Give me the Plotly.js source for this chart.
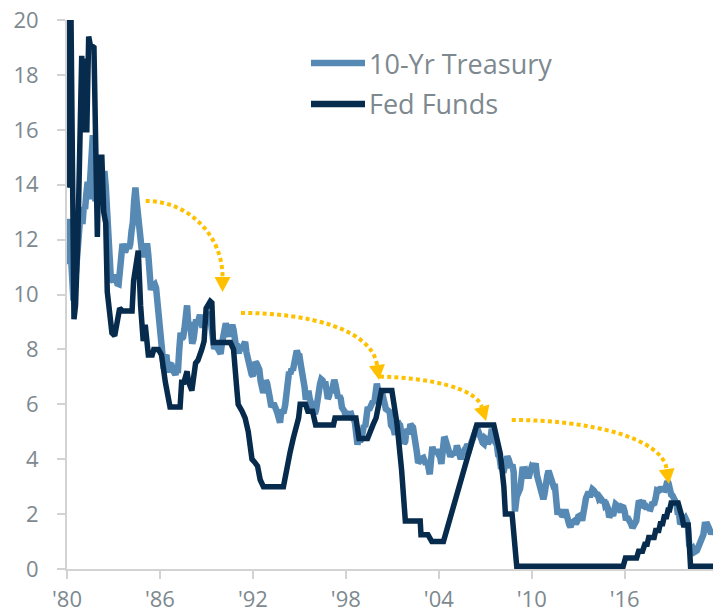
<!DOCTYPE html>
<html>
<head>
<meta charset="utf-8">
<script src="https://cdn.plot.ly/plotly-3.0.1.min.js"></script>
<style>html,body{margin:0;padding:0;background:#fff;}#chart{width:713px;height:615px;}</style>
</head>
<body>
<div id="chart"></div>
<script>
// ---- data ----
const seriesNames = ['10-Yr Treasury', 'Fed Funds'];
const tickYears = [1980, 1986, 1992, 1998, 2004, 2010, 2016];
const tickLabels = ["'80", "'86", "'92", "'98", "'04", "'10", "'16"];
const yTicks = [0, 2, 4, 6, 8, 10, 12, 14, 16, 18, 20];

// 10-year Treasury yield, monthly from Jan 1980
const tsyStartYear = 1980;
const tsy10 = [
  11.10, 12.60, 12.75, 11.47, 10.18, 9.78, 10.25, 11.10, 11.51, 11.75, 12.68, 12.84,
  12.57, 13.19, 13.12, 13.68, 14.10, 13.47, 14.28, 14.94, 15.80, 15.15, 13.39, 13.72,
  14.59, 14.43, 13.86, 13.87, 13.62, 14.50, 13.95, 13.06, 12.34, 10.91, 10.55, 10.54,
  10.46, 10.72, 10.51, 10.40, 10.38, 10.85, 11.38, 11.85, 11.65, 11.54, 11.69, 11.83,
  11.67, 11.84, 12.32, 12.63, 13.41, 13.90, 13.36, 12.72, 12.52, 12.16, 11.57, 11.50,
  11.38, 11.51, 11.86, 11.43, 10.85, 10.16, 10.31, 10.33, 10.37, 10.24, 9.78, 9.26,
  9.19, 8.70, 7.78, 7.30, 7.71, 7.80, 7.30, 7.17, 7.45, 7.43, 7.25, 7.11,
  7.08, 7.25, 7.25, 8.02, 8.61, 8.40, 8.45, 8.76, 9.42, 9.60, 8.86, 8.99,
  8.67, 8.21, 8.37, 8.72, 9.09, 8.92, 9.06, 9.26, 8.98, 8.80, 8.96, 9.11,
  9.09, 9.17, 9.36, 9.18, 8.86, 8.28, 8.02, 8.11, 8.19, 8.01, 7.87, 7.84,
  8.21, 8.47, 8.59, 8.95, 8.76, 8.48, 8.47, 8.75, 8.89, 8.72, 8.39, 8.08,
  8.09, 7.85, 8.11, 8.04, 8.07, 8.28, 8.27, 7.90, 7.65, 7.53, 7.42, 7.09,
  7.03, 7.34, 7.54, 7.48, 7.39, 7.26, 6.84, 6.59, 6.42, 6.59, 6.87, 6.77,
  6.60, 6.26, 5.98, 5.97, 6.04, 5.96, 5.81, 5.68, 5.36, 5.33, 5.72, 5.77,
  5.75, 5.97, 6.48, 6.97, 7.18, 7.10, 7.30, 7.24, 7.46, 7.74, 7.96, 7.81,
  7.78, 7.47, 7.20, 7.06, 6.63, 6.17, 6.28, 6.49, 6.20, 6.04, 5.93, 5.71,
  5.65, 5.81, 6.27, 6.51, 6.74, 6.91, 6.87, 6.64, 6.83, 6.53, 6.20, 6.30,
  6.58, 6.42, 6.69, 6.89, 6.71, 6.49, 6.22, 6.30, 6.21, 5.88, 5.81, 5.74,
  5.51, 5.62, 5.65, 5.64, 5.65, 5.50, 5.46, 5.34, 4.81, 4.53, 4.83, 4.65,
  4.72, 5.00, 5.23, 5.18, 5.54, 5.90, 5.79, 5.94, 5.92, 6.11, 6.03, 6.28,
  6.75, 6.52, 6.26, 5.99, 6.44, 6.10, 6.05, 5.83, 5.80, 5.74, 5.72, 5.24,
  5.16, 5.10, 4.89, 5.14, 5.39, 5.28, 5.24, 4.97, 4.73, 4.57, 4.65, 5.09,
  5.04, 4.91, 5.28, 5.21, 5.16, 4.93, 4.65, 4.26, 3.87, 3.94, 4.05, 4.03,
  4.05, 3.90, 3.81, 3.96, 3.57, 3.45, 3.98, 4.45, 4.27, 4.29, 4.30, 4.27,
  4.15, 4.08, 3.83, 4.35, 4.72, 4.73, 4.50, 4.28, 4.13, 4.10, 4.19, 4.23,
  4.22, 4.17, 4.50, 4.34, 4.14, 4.00, 4.18, 4.26, 4.20, 4.46, 4.54, 4.47,
  4.42, 4.57, 4.72, 4.99, 5.11, 5.11, 5.09, 4.88, 4.72, 4.73, 4.60, 4.56,
  4.76, 4.72, 4.56, 4.69, 4.75, 5.10, 5.00, 4.67, 4.52, 4.53, 4.15, 4.10,
  3.74, 3.74, 3.51, 3.68, 3.88, 4.10, 4.01, 3.89, 3.69, 3.81, 3.53, 2.10,
  2.52, 2.87, 2.82, 2.93, 3.29, 3.72, 3.56, 3.59, 3.40, 3.39, 3.40, 3.59,
  3.73, 3.69, 3.73, 3.85, 3.42, 3.20, 3.01, 2.70, 2.65, 2.54, 2.76, 3.29,
  3.39, 3.58, 3.41, 3.46, 3.17, 3.00, 3.00, 2.30, 1.98, 2.15, 2.01, 1.98,
  1.97, 1.97, 2.17, 2.05, 1.80, 1.62, 1.53, 1.68, 1.72, 1.75, 1.65, 1.72,
  1.91, 1.98, 1.96, 1.76, 1.93, 2.30, 2.58, 2.74, 2.81, 2.62, 2.72, 2.90,
  2.86, 2.71, 2.72, 2.71, 2.56, 2.60, 2.54, 2.42, 2.53, 2.30, 2.33, 2.21,
  1.88, 1.98, 2.04, 1.94, 2.20, 2.36, 2.32, 2.17, 2.17, 2.07, 2.26, 2.24,
  2.09, 1.78, 1.89, 1.81, 1.81, 1.64, 1.50, 1.56, 1.63, 1.76, 2.14, 2.49,
  2.43, 2.42, 2.48, 2.30, 2.30, 2.19, 2.32, 2.21, 2.20, 2.36, 2.35, 2.40,
  2.58, 2.86, 2.84, 2.87, 2.98, 2.91, 2.89, 2.89, 3.00, 3.20, 3.12, 2.83,
  2.71, 2.68, 2.57, 2.53, 2.40, 2.07, 2.06, 1.63, 1.70, 1.71, 1.81, 1.86,
  1.76, 1.50, 0.87, 0.66, 0.67, 0.73, 0.62, 0.65, 0.68, 0.79, 0.87, 0.93,
  1.08, 1.26, 1.61, 1.64, 1.62, 1.52, 1.32, 1.28, 1.37
];

// Fed funds rate, read at turning points
const fedYears = [
  1980.00, 1980.04, 1980.12, 1980.25, 1980.45, 1980.55, 1980.70, 1980.87, 1980.95, 1981.00,
  1981.05, 1981.12, 1981.28, 1981.40, 1981.50, 1981.74, 1981.96, 1982.05, 1982.25, 1982.37,
  1982.50, 1982.60, 1982.90, 1983.08, 1983.40, 1983.60, 1984.20, 1984.30, 1984.60, 1984.75,
  1984.92, 1985.05, 1985.15, 1985.25, 1985.50, 1985.60, 1985.90, 1986.10, 1986.35, 1986.45,
  1986.65, 1987.30, 1987.40, 1987.55, 1987.75, 1987.85, 1988.06, 1988.30, 1988.45, 1988.70,
  1988.85, 1988.98, 1989.25, 1989.35, 1989.45, 1990.55, 1990.75, 1990.97, 1991.05, 1991.30,
  1991.50, 1991.70, 1991.94, 1992.10, 1992.30, 1992.47, 1992.68, 1993.97, 1994.05, 1994.15,
  1994.40, 1994.60, 1994.95, 1995.05, 1995.40, 1995.55, 1995.85, 1995.95, 1996.05, 1997.20,
  1997.30, 1998.65, 1998.85, 1999.40, 1999.55, 1999.75, 1999.95, 2000.10, 2000.30, 2000.97,
  2001.30, 2001.60, 2001.84, 2002.80, 2002.85, 2003.30, 2003.55, 2004.30, 2006.45, 2007.55,
  2007.97, 2008.20, 2008.30, 2008.73, 2009.03, 2015.90, 2016.05, 2016.77, 2016.90, 2017.15,
  2017.30, 2017.45, 2017.55, 2017.90, 2018.00, 2018.20, 2018.30, 2018.45, 2018.55, 2018.70,
  2018.80, 2018.90, 2019.00, 2019.45, 2019.60, 2019.70, 2019.80, 2020.10, 2020.25, 2021.70
];
const fedRates = [
  13.9, 14.0, 20.6, 20.6, 9.1, 9.6, 12.0, 18.4, 18.7, 16.0,
  18.6, 16.0, 16.0, 19.4, 19.1, 19.0, 12.1, 15.0, 15.0, 13.0,
  12.6, 10.1, 8.6, 8.5, 9.5, 9.4, 9.4, 10.5, 11.6, 9.6,
  8.3, 8.9, 8.5, 7.8, 7.8, 8.0, 8.0, 7.8, 6.8, 6.5,
  5.9, 5.9, 6.8, 6.8, 7.2, 6.8, 6.5, 7.5, 7.6, 8.0,
  8.3, 9.5, 9.75, 9.7, 8.25, 8.25, 8.0, 6.5, 6.0, 5.75,
  5.5, 5.0, 4.0, 3.9, 3.75, 3.25, 3.0, 3.0, 3.25, 3.75,
  4.25, 4.75, 5.5, 6.0, 6.0, 5.75, 5.75, 5.5, 5.25, 5.25,
  5.5, 5.5, 4.75, 4.75, 5.0, 5.25, 5.5, 6.0, 6.5, 6.5,
  5.3, 3.6, 1.75, 1.75, 1.25, 1.25, 1.0, 1.0, 5.25, 5.25,
  4.2, 3.0, 2.0, 2.0, 0.1, 0.1, 0.4, 0.4, 0.65, 0.65,
  0.9, 0.9, 1.15, 1.15, 1.4, 1.4, 1.65, 1.65, 1.9, 1.9,
  2.15, 2.15, 2.4, 2.4, 2.15, 1.9, 1.6, 1.6, 0.1, 0.1
];

// dotted arrow arcs: [x0,y0, cx1,cy1, cx2,cy2, x3,y3] in data units (year, %)
const arrowArcs = [
  [1985.08, 13.41, 1987.81, 13.41, 1990.04, 12.17, 1990.04, 10.64],
  [1991.23, 9.33, 1995.69, 9.33, 1999.69, 8.71, 2000.01, 7.43],
  [2000.20, 7.01, 2003.43, 6.96, 2006.40, 6.59, 2006.77, 5.91],
  [2008.71, 5.43, 2013.76, 5.43, 2018.41, 4.77, 2018.71, 3.64]
];

// ---- styling / geometry ----
const W = 713, H = 615;
const M = {l: 67, r: 0, t: 20, b: 46};
const xRange = [1980, 2021.7];
const yRange = [0, 20];
const plotW = W - M.l - M.r, plotH = H - M.t - M.b;
const pxPerX = plotW / (xRange[1] - xRange[0]);
const pxPerY = plotH / (yRange[1] - yRange[0]);

const cLight = '#5789b5';
const cDark = '#062b4c';
const cGold = '#ffc000';
const cText = '#7d898f';
const cAxis = '#d3d3d3';
const FONT = '"Open Sans", "Noto Sans", sans-serif';

const tsyX = tsy10.map((_, i) => tsyStartYear + i / 12);

const traces = [
  {x: tsyX, y: tsy10, type: 'scatter', mode: 'lines', name: seriesNames[0],
   line: {color: cLight, width: 6.5}, hoverinfo: 'skip'},
  {x: fedYears, y: fedRates, type: 'scatter', mode: 'lines', name: seriesNames[1],
   line: {color: cDark, width: 5.5}, hoverinfo: 'skip'}
];

const shapes = [];
arrowArcs.forEach(a => {
  shapes.push({
    type: 'path', xref: 'x', yref: 'y',
    path: `M ${a[0]},${a[1]} C ${a[2]},${a[3]} ${a[4]},${a[5]} ${a[6]},${a[7]}`,
    line: {color: cGold, width: 4, dash: '4px,3.2px'}
  });
  // arrowhead triangle along end tangent (computed in pixel space)
  let dx = (a[6] - a[4]) * pxPerX, dy = -(a[7] - a[5]) * pxPerY;
  const len = Math.hypot(dx, dy); dx /= len; dy /= len;
  const L = 15, hw = 8;
  const bx = a[6], by = a[7];
  const toData = (px, py) => [bx + px / pxPerX, by - py / pxPerY];
  const tip = toData(dx * L, dy * L);
  const c1 = toData(-dy * hw, dx * hw);
  const c2 = toData(dy * hw, -dx * hw);
  shapes.push({
    type: 'path', xref: 'x', yref: 'y',
    path: `M ${tip[0]},${tip[1]} L ${c1[0]},${c1[1]} L ${c2[0]},${c2[1]} Z`,
    fillcolor: cGold, line: {width: 0}
  });
});

// custom legend (pixel positions converted to paper)
const px2paperX = px => (px - M.l) / plotW;
const px2paperY = py => (H - M.b - py) / plotH;
const legendRows = [
  {name: seriesNames[0], color: cLight, width: 6.5, y: 63},
  {name: seriesNames[1], color: cDark, width: 6.5, y: 104}
];
const annotations = [];
legendRows.forEach(r => {
  shapes.push({type: 'line', xref: 'paper', yref: 'paper',
    x0: px2paperX(311), x1: px2paperX(365), y0: px2paperY(r.y), y1: px2paperY(r.y),
    line: {color: r.color, width: r.width}});
  annotations.push({xref: 'paper', yref: 'paper', x: px2paperX(367), y: px2paperY(r.y),
    xanchor: 'left', yanchor: 'middle', showarrow: false, text: r.name,
    font: {family: FONT, size: 27, color: cText}});
});

const axisCommon = {
  showline: true, linecolor: cAxis, linewidth: 2,
  ticks: 'outside', ticklen: 8, tickwidth: 2, tickcolor: cAxis,
  showgrid: false, zeroline: false,
  tickfont: {family: FONT, size: 22, color: cText}
};

const layout = {
  width: W, height: H, margin: M,
  paper_bgcolor: '#ffffff', plot_bgcolor: '#ffffff',
  showlegend: false,
  xaxis: Object.assign({}, axisCommon, {
    range: xRange, tickmode: 'array', tickvals: tickYears, ticktext: tickLabels,
    ticklabelstandoff: 2
  }),
  yaxis: Object.assign({}, axisCommon, {
    range: yRange, tickmode: 'array', tickvals: yTicks,
    ticklabelstandoff: 14
  }),
  shapes: shapes,
  annotations: annotations
};

Plotly.newPlot('chart', traces, layout, {staticPlot: true, displayModeBar: false});
</script>
</body>
</html>
